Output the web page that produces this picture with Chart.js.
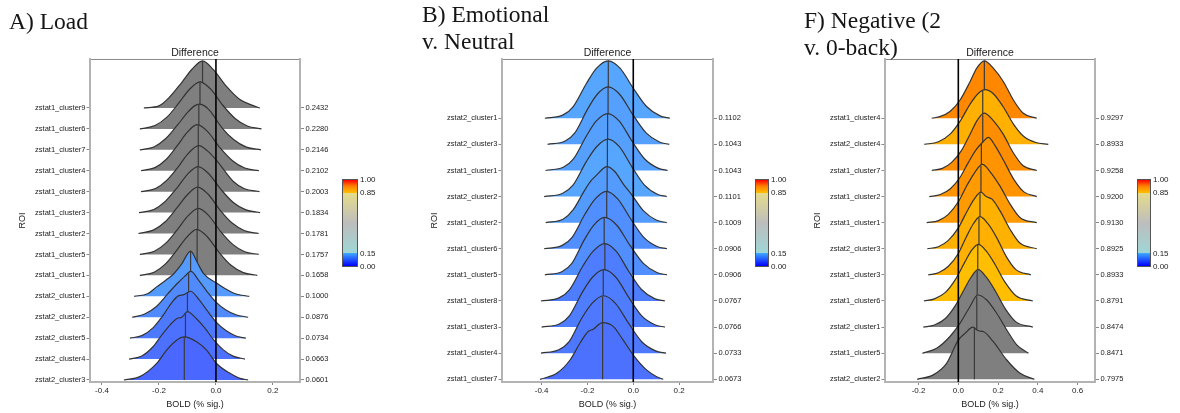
<!DOCTYPE html>
<html>
<head>
<meta charset="utf-8">
<script src="https://cdn.jsdelivr.net/npm/chart.js"></script>
<style>
  body { margin: 0; background: #fff; }
  #wrap { position: relative; width: 1180px; height: 413px; overflow: hidden; }
  #wrap canvas { position: absolute; top: 0; }
  .head { position: absolute; font-family: "Liberation Serif", "Times New Roman", serif; font-size: 23.5px; line-height: 27px; color: #151515; white-space: nowrap; z-index: 2; }
  .cbar { position: absolute; border: 1px solid #555; box-sizing: border-box;
    background: linear-gradient(to top, #0000ff 0%, #3fa9ff 15%, #9fd6d6 15%, #bdbdbd 50%, #e6dc8a 85%, #ffbf00 85%, #ff7f00 93%, #ff0000 100%); }
  .cb-lab { position: absolute; font: 8px "Liberation Sans", Arial, sans-serif; line-height: 10px; color: #222; }
</style>
</head>
<body>
<div id="wrap">
  <canvas id="cA" width="395" height="413" style="left:0px"></canvas>
  <canvas id="cB" width="395" height="413" style="left:395px"></canvas>
  <canvas id="cC" width="390" height="413" style="left:790px"></canvas>
  <div class="head" style="left:9px;top:8px">A) Load</div>
  <div class="head" style="left:422px;top:1px">B) Emotional<br>v. Neutral</div>
  <div class="head" style="left:804px;top:7px">F) Negative (2<br>v. 0-back)</div>
</div>
<script>
// ---- A) Load ----
const namesA = ['zstat1_cluster9', 'zstat1_cluster6', 'zstat1_cluster7', 'zstat1_cluster4', 'zstat1_cluster8',
  'zstat1_cluster3', 'zstat1_cluster2', 'zstat1_cluster5', 'zstat1_cluster1', 'zstat2_cluster1',
  'zstat2_cluster2', 'zstat2_cluster5', 'zstat2_cluster4', 'zstat2_cluster3'];
const probsA = ['0.2432', '0.2280', '0.2146', '0.2102', '0.2003', '0.1834', '0.1781', '0.1757', '0.1658',
  '0.1000', '0.0876', '0.0734', '0.0663', '0.0601'];
const mediansA = [-0.047, -0.056, -0.06, -0.062, -0.062, -0.063, -0.064, -0.064, -0.066, -0.089, -0.096, -0.1, -0.107, -0.111];
// density outlines: [BOLD, height in rows]
const ridgesA = [
  [[-0.253,0],[-0.20,0.1],[-0.160,0.56],[-0.119,1.24],[-0.084,1.85],[-0.047,2.25],[-0.009,1.83],[0.037,1.03],[0.084,0.40],[0.131,0.11],[0.154,0]],
  [[-0.267,0],[-0.214,0.16],[-0.172,0.56],[-0.130,1.24],[-0.094,1.87],[-0.056,2.25],[-0.019,1.91],[0.024,1.13],[0.067,0.5],[0.110,0.14],[0.160,0]],
  [[-0.267,0],[-0.216,0.15],[-0.175,0.55],[-0.134,1.2],[-0.098,1.81],[-0.075,2.1],[-0.058,2.18],[-0.040,2.1],[-0.020,1.85],[0.019,1.09],[0.063,0.48],[0.107,0.13],[0.158,0]],
  [[-0.263,0],[-0.214,0.15],[-0.174,0.55],[-0.135,1.21],[-0.101,1.83],[-0.066,2.2],[-0.029,1.87],[0.014,1.1],[0.058,0.48],[0.101,0.13],[0.151,0]],
  [[-0.263,0],[-0.212,0.15],[-0.172,0.55],[-0.131,1.21],[-0.097,1.83],[-0.060,2.2],[-0.030,1.95],[0.005,1.45],[0.030,1.0],[0.060,0.5],[0.100,0.14],[0.153,0]],
  [[-0.270,0],[-0.218,0.15],[-0.177,0.55],[-0.135,1.21],[-0.100,1.83],[-0.063,2.2],[-0.026,1.87],[0.018,1.1],[0.061,0.48],[0.105,0.13],[0.155,0]],
  [[-0.272,0],[-0.220,0.16],[-0.178,0.56],[-0.137,1.22],[-0.101,1.84],[-0.064,2.22],[-0.028,1.89],[0.015,1.11],[0.058,0.49],[0.101,0.13],[0.150,0]],
  [[-0.267,0],[-0.216,0.15],[-0.175,0.55],[-0.134,1.21],[-0.099,1.83],[-0.062,2.2],[-0.026,1.87],[0.016,1.1],[0.059,0.48],[0.101,0.13],[0.150,0]],
  [[-0.267,0],[-0.217,0.15],[-0.177,0.55],[-0.137,1.21],[-0.102,1.83],[-0.068,2.2],[-0.032,1.87],[0.011,1.1],[0.053,0.48],[0.096,0.13],[0.145,0]],
  [[-0.287,0],[-0.24,0.12],[-0.208,0.45],[-0.175,0.78],[-0.150,1.05],[-0.120,1.55],[-0.089,2.16],[-0.065,1.6],[-0.044,1.1],[0.002,0.63],[0.030,0.38],[0.061,0.16],[0.090,0.05],[0.117,0]],
  [[-0.294,0],[-0.25,0.15],[-0.21,0.5],[-0.17,1.1],[-0.14,1.55],[-0.125,1.75],[-0.11,1.95],[-0.088,2.19],[-0.06,1.75],[-0.03,1.2],[0.0,0.72],[0.035,0.35],[0.07,0.12],[0.113,0]],
  [[-0.302,0],[-0.26,0.12],[-0.22,0.5],[-0.185,1.1],[-0.155,1.7],[-0.132,2.02],[-0.112,2.08],[-0.089,2.24],[-0.06,1.85],[-0.03,1.3],[0.0,0.78],[0.035,0.36],[0.07,0.1],[0.105,0]],
  [[-0.305,0],[-0.26,0.15],[-0.22,0.6],[-0.19,1.15],[-0.16,1.65],[-0.135,1.95],[-0.12,2.0],[-0.100,2.27],[-0.07,1.95],[-0.04,1.5],[-0.01,0.95],[0.025,0.45],[0.06,0.14],[0.102,0]],
  [[-0.323,0],[-0.267,0.16],[-0.208,0.79],[-0.173,1.43],[-0.138,1.9],[-0.111,2.06],[-0.068,1.83],[-0.033,1.43],[0.002,0.79],[0.049,0.32],[0.084,0.08],[0.113,0]]
];
const xTicksA = [-0.4, -0.2, 0, 0.2];

// ---- B) Emotional v. Neutral ----
const namesB = ['zstat2_cluster1', 'zstat2_cluster3', 'zstat1_cluster1', 'zstat2_cluster2', 'zstat1_cluster2',
  'zstat1_cluster6', 'zstat1_cluster5', 'zstat1_cluster8', 'zstat1_cluster3', 'zstat1_cluster4', 'zstat1_cluster7'];
const probsB = ['0.1102', '0.1043', '0.1043', '0.1101', '0.1009', '0.0906', '0.0906', '0.0767', '0.0766', '0.0733', '0.0673'];
const mediansB = [-0.109, -0.11, -0.112, -0.113, -0.114, -0.116, -0.127, -0.124, -0.131, -0.134, -0.134];
const ridgesB = [
  [[-0.386,0],[-0.306,0.13],[-0.262,0.45],[-0.204,1.34],[-0.160,1.92],[-0.109,2.2],[-0.058,1.92],[0.0,1.15],[0.058,0.45],[0.117,0.09],[0.160,0]],
  [[-0.374,0],[-0.297,0.13],[-0.255,0.44],[-0.200,1.34],[-0.158,1.91],[-0.110,2.2],[-0.059,1.91],[-0.002,1.14],[0.056,0.44],[0.114,0.09],[0.157,0]],
  [[-0.383,0],[-0.304,0.13],[-0.261,0.44],[-0.204,1.33],[-0.161,1.9],[-0.112,2.18],[-0.062,1.9],[-0.006,1.13],[0.050,0.44],[0.108,0.09],[0.150,0]],
  [[-0.389,0],[-0.308,0.13],[-0.263,0.44],[-0.205,1.34],[-0.160,1.91],[-0.110,2.2],[-0.061,1.91],[-0.006,1.14],[0.049,0.44],[0.105,0.09],[0.146,0]],
  [[-0.382,0],[-0.305,0.14],[-0.262,0.5],[-0.215,1.2],[-0.185,1.6],[-0.160,1.82],[-0.135,2.05],[-0.115,2.15],[-0.080,1.95],[-0.045,1.5],[-0.005,1.05],[0.045,0.45],[0.100,0.1],[0.146,0]],
  [[-0.389,0],[-0.310,0.13],[-0.267,0.44],[-0.210,1.34],[-0.166,1.91],[-0.118,2.2],[-0.068,1.91],[-0.011,1.14],[0.046,0.44],[0.104,0.09],[0.147,0]],
  [[-0.386,0],[-0.310,0.13],[-0.268,0.44],[-0.214,1.34],[-0.172,1.91],[-0.125,2.2],[-0.073,1.91],[-0.015,1.14],[0.044,0.44],[0.103,0.09],[0.147,0]],
  [[-0.403,0],[-0.322,0.13],[-0.278,0.44],[-0.220,1.34],[-0.175,1.91],[-0.125,2.2],[-0.075,1.91],[-0.020,1.14],[0.036,0.44],[0.093,0.09],[0.138,0]],
  [[-0.400,0],[-0.321,0.13],[-0.278,0.44],[-0.222,1.34],[-0.178,1.91],[-0.128,2.2],[-0.076,1.91],[-0.020,1.14],[0.036,0.44],[0.094,0.09],[0.138,0]],
  [[-0.403,0],[-0.325,0.13],[-0.280,0.44],[-0.225,1.34],[-0.180,1.91],[-0.130,2.2],[-0.078,1.91],[-0.020,1.14],[0.037,0.44],[0.097,0.09],[0.143,0]],
  [[-0.407,0],[-0.334,0.23],[-0.276,0.74],[-0.233,1.38],[-0.197,1.83],[-0.175,1.92],[-0.134,2.17],[-0.087,2.02],[-0.044,1.5],[0.0,0.93],[0.058,0.36],[0.102,0.1],[0.131,0]]
];
const xTicksB = [-0.4, -0.2, 0, 0.2];

// ---- F) Negative (2 v. 0-back) ----
const namesC = ['zstat1_cluster4', 'zstat2_cluster4', 'zstat1_cluster7', 'zstat1_cluster2', 'zstat1_cluster1',
  'zstat2_cluster3', 'zstat1_cluster3', 'zstat1_cluster6', 'zstat2_cluster1', 'zstat1_cluster5', 'zstat2_cluster2'];
const probsC = ['0.9297', '0.8933', '0.9258', '0.9200', '0.9130', '0.8925', '0.8933', '0.8791', '0.8474', '0.8471', '0.7975'];
const mediansC = [0.131, 0.123, 0.123, 0.116, 0.114, 0.109, 0.104, 0.098, 0.095, 0.093, 0.081];
const ridgesC = [
  [[-0.134,0],[-0.09,0.07],[-0.042,0.26],[0.009,0.70],[0.059,1.4],[0.093,1.92],[0.131,2.2],[0.176,1.92],[0.227,1.4],[0.277,0.7],[0.327,0.19],[0.395,0]],
  [[-0.171,0],[-0.10,0.1],[-0.04,0.4],[0.01,0.9],[0.06,1.55],[0.10,1.95],[0.135,2.1],[0.175,1.95],[0.225,1.45],[0.28,0.75],[0.33,0.3],[0.39,0.07],[0.453,0]],
  [[-0.134,0],[-0.08,0.08],[-0.035,0.3],[0.012,0.72],[0.06,1.4],[0.095,1.92],[0.13,2.2],[0.175,1.92],[0.225,1.4],[0.275,0.7],[0.325,0.19],[0.395,0]],
  [[-0.146,0],[-0.09,0.08],[-0.04,0.3],[0.01,0.75],[0.05,1.3],[0.09,1.8],[0.125,2.1],[0.151,2.27],[0.185,1.95],[0.23,1.35],[0.28,0.65],[0.33,0.18],[0.395,0]],
  [[-0.159,0],[-0.10,0.08],[-0.05,0.32],[0.0,0.8],[0.045,1.45],[0.085,1.95],[0.121,2.23],[0.16,1.95],[0.21,1.4],[0.26,0.72],[0.31,0.2],[0.395,0]],
  [[-0.156,0],[-0.10,0.08],[-0.05,0.32],[0.0,0.8],[0.045,1.45],[0.08,1.9],[0.114,2.17],[0.14,2.0],[0.17,1.9],[0.21,1.45],[0.26,0.75],[0.31,0.22],[0.395,0]],
  [[-0.151,0],[-0.10,0.08],[-0.05,0.33],[0.0,0.82],[0.04,1.45],[0.075,1.95],[0.109,2.23],[0.15,1.95],[0.195,1.4],[0.24,0.72],[0.29,0.2],[0.365,0]],
  [[-0.173,0],[-0.12,0.08],[-0.065,0.33],[-0.015,0.82],[0.03,1.45],[0.065,1.92],[0.100,2.17],[0.14,1.92],[0.185,1.4],[0.235,0.72],[0.29,0.2],[0.375,0]],
  [[-0.176,0],[-0.12,0.08],[-0.065,0.33],[-0.015,0.82],[0.03,1.45],[0.065,1.92],[0.100,2.2],[0.14,1.92],[0.185,1.4],[0.235,0.72],[0.29,0.2],[0.375,0]],
  [[-0.181,0],[-0.109,0.19],[-0.042,0.64],[0.009,1.15],[0.059,1.79],[0.098,2.23],[0.143,2.04],[0.193,1.53],[0.244,0.89],[0.294,0.32],[0.353,0]],
  [[-0.207,0],[-0.126,0.17],[-0.059,0.61],[0.0,1.5],[0.034,1.76],[0.073,2.0],[0.101,1.86],[0.126,1.83],[0.176,1.44],[0.244,0.74],[0.311,0.23],[0.383,0]]
];
const xTicksC = [-0.2, 0, 0.2, 0.4, 0.6];

const colorbarTicks = [0, 0.15, 0.85, 1];

Chart.defaults.font.family = '"Liberation Sans", Arial, sans-serif';
Chart.defaults.color = '#222';

// fill colour from the probability: blue below 0.15, orange/red above 0.85, grey between
function ridgeColor(p) {
  if (p < 0.15) {
    const t = Math.min(1, Math.max(0, (p - 0.06) / 0.05));
    return `rgb(${Math.round(74 + 12 * t)},${Math.round(104 + 62 * t)},255)`;
  }
  if (p > 0.85) {
    const g = Math.min(200, Math.max(0, 136 + (0.93 - p) * 1080));
    return `rgb(255,${Math.round(g)},0)`;
  }
  return '#7f7f7f';
}

// height of an outline at a given BOLD value
function heightAt(pts, x) {
  for (let k = 1; k < pts.length; k++) {
    const [x0, h0] = pts[k - 1], [x1, h1] = pts[k];
    if (x >= x0 && x <= x1) return h0 + (h1 - h0) * (x - x0) / (x1 - x0);
  }
  return 0;
}

function drawPanel(cfg) {
  const n = cfg.names.length;
  const datasets = [{
    data: [{ x: 0, y: cfg.yMin }, { x: 0, y: cfg.yMax }],
    borderColor: '#000', borderWidth: 1.6, pointRadius: 0, fill: false
  }];
  // bottom row first: lower ridges are painted over the ones above them
  for (let i = n - 1; i >= 0; i--) {
    const row = n - 1 - i;
    const pts = cfg.ridges[i];
    const m = cfg.medians[i];
    datasets.push({
      data: [{ x: m, y: row }, { x: m, y: row + heightAt(pts, m) }],
      borderColor: '#3a3a3a', borderWidth: 1.2, pointRadius: 0, fill: false
    });
    datasets.push({
      data: pts.map(([x, h]) => ({ x, y: row + h })),
      borderColor: '#333', borderWidth: 1.2, pointRadius: 0,
      backgroundColor: ridgeColor(parseFloat(cfg.probs[i])),
      fill: { value: row },
      cubicInterpolationMode: 'monotone'
    });
  }
  const rows = s => { s.ticks = cfg.names.map((_, r) => ({ value: r })); };
  const frame = '#b3b3b3';

  new Chart(document.getElementById(cfg.id), {
    type: 'line',
    data: { datasets },
    options: {
      responsive: false, animation: false, events: [],
      devicePixelRatio: 1,
      layout: { padding: 0 },
      plugins: { legend: { display: false }, tooltip: { enabled: false } },
      scales: {
        x: {
          type: 'linear', position: 'bottom', min: cfg.xMin, max: cfg.xMax,
          afterBuildTicks: s => { s.ticks = cfg.xTicks.map(v => ({ value: v })); },
          afterFit: s => { s.height = 31; },
          ticks: { font: { size: 8 }, padding: 1, maxRotation: 0, autoSkip: false, callback: v => v.toFixed(1) },
          grid: { drawOnChartArea: false, tickLength: 3, color: '#888' },
          border: { color: frame, width: 2 },
          title: { display: true, text: 'BOLD (% sig.)', font: { size: 9 }, padding: { top: 0, bottom: 3 } }
        },
        x2: {
          type: 'linear', position: 'top', min: cfg.xMin, max: cfg.xMax,
          afterFit: s => { s.height = 59; },
          ticks: { display: false },
          grid: { display: false },
          border: { color: '#8c8c8c', width: 1 },
          title: { display: true, text: 'Difference', font: { size: 10.5 }, padding: { top: 47, bottom: 0 } }
        },
        y: {
          type: 'linear', position: 'left', min: cfg.yMin, max: cfg.yMax,
          afterBuildTicks: rows,
          afterFit: s => { s.width = cfg.leftW; },
          ticks: { font: { size: 7.5 }, padding: 1, autoSkip: false, callback: v => cfg.names[n - 1 - v] },
          grid: { drawOnChartArea: false, tickLength: 3.5, color: '#888' },
          border: { color: frame, width: 2 },
          title: { display: true, text: 'ROI', font: { size: 9 }, padding: { top: cfg.roiPad, bottom: 0 } }
        },
        y2: {
          type: 'linear', position: 'right', min: cfg.yMin, max: cfg.yMax,
          afterBuildTicks: rows,
          afterFit: s => { s.width = cfg.rightW; },
          ticks: { font: { size: 7.5 }, padding: 1.5, autoSkip: false, callback: v => cfg.probs[n - 1 - v] },
          grid: { drawOnChartArea: false, tickLength: 4, color: '#888' },
          border: { color: frame, width: 2 }
        }
      }
    }
  });

  // probability colour key
  const wrap = document.getElementById('wrap');
  const bar = document.createElement('div');
  bar.className = 'cbar';
  Object.assign(bar.style, { left: cfg.cbLeft + 'px', top: '179px', width: cfg.cbWidth + 'px', height: '88px' });
  wrap.appendChild(bar);
  colorbarTicks.forEach(v => {
    const lab = document.createElement('div');
    lab.className = 'cb-lab';
    lab.textContent = v.toFixed(2);
    Object.assign(lab.style, { left: (cfg.cbLeft + cfg.cbWidth + 2) + 'px', top: (179 + (1 - v) * 87 - 4) + 'px' });
    wrap.appendChild(lab);
  });
}

drawPanel({ id: 'cA', names: namesA, probs: probsA, medians: mediansA, ridges: ridgesA, xTicks: xTicksA,
  xMin: -0.442, xMax: 0.295, yMin: -0.096, yMax: 15.34, leftW: 90, rightW: 95, roiPad: 17.6, cbLeft: 342, cbWidth: 16 });
drawPanel({ id: 'cB', names: namesB, probs: probsB, medians: mediansB, ridges: ridgesB, xTicks: xTicksB,
  xMin: -0.573, xMax: 0.348, yMin: -0.103, yMax: 12.27, leftW: 107, rightW: 77, roiPad: 34.6, cbLeft: 755, cbWidth: 14 });
drawPanel({ id: 'cC', names: namesC, probs: probsC, medians: mediansC, ridges: ridgesC, xTicks: xTicksC,
  xMin: -0.369, xMax: 0.688, yMin: -0.103, yMax: 12.27, leftW: 95, rightW: 85, roiPad: 22.6, cbLeft: 1137, cbWidth: 14 });
</script>
</body>
</html>
